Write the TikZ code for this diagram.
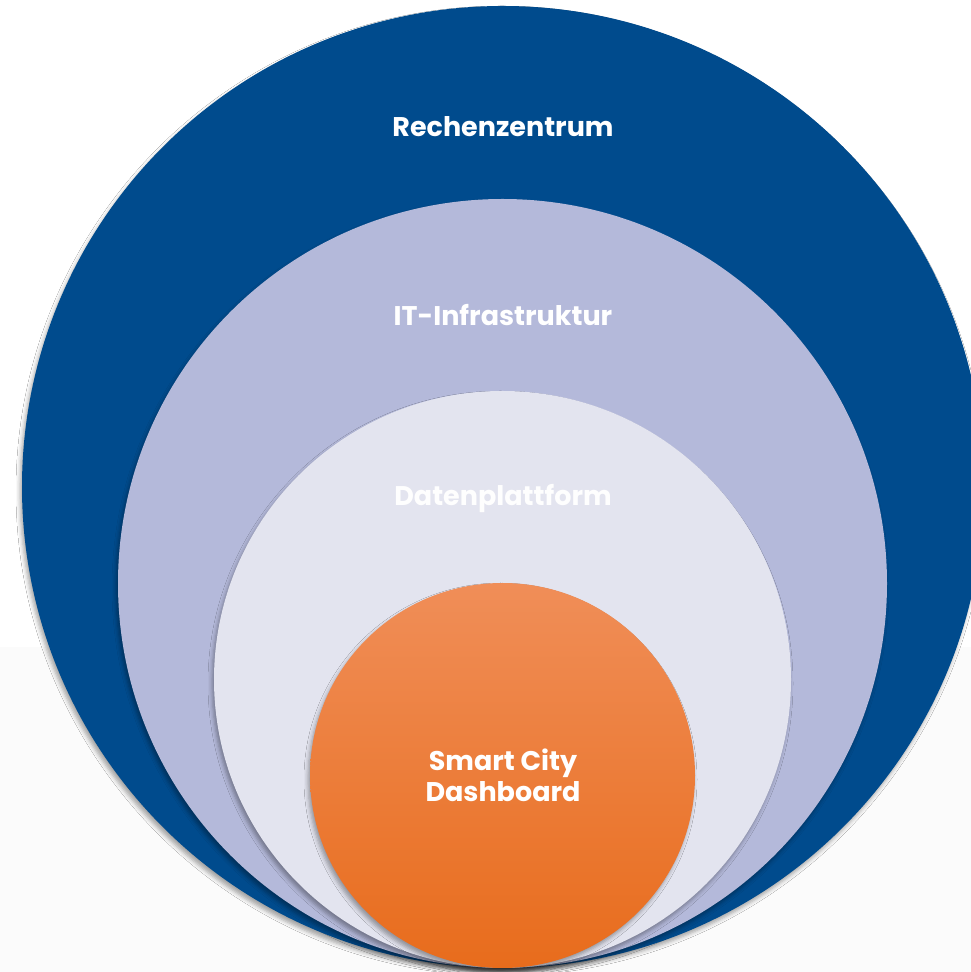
\documentclass[tikz,border=0pt]{standalone}
\usepackage{fontspec}
\setmainfont{Poppins}
\usetikzlibrary{shadows.blur}
\definecolor{cBlue}{HTML}{004B8D}
\definecolor{cLav}{HTML}{B4B9DA}
\definecolor{cPale}{HTML}{E3E4EF}
\definecolor{cOrTop}{HTML}{F08E58}
\definecolor{cOrBot}{HTML}{E86C1C}
\definecolor{cBg}{HTML}{FBFBFB}
\tikzset{
  ring/.style={circle, inner sep=0pt, draw=none,
    blur shadow={shadow xshift=-2pt, shadow yshift=-4pt, shadow blur radius=4pt, shadow opacity=35}},
  lab/.style={text=white, font=\fontsize{27}{31}\selectfont\bfseries, align=center}
}
\begin{document}
\begin{tikzpicture}[x=1pt,y=1pt]
\useasboundingbox (0,0) rectangle (971,972);
\clip (0,0) rectangle (971,972);
\fill[white] (0,0) rectangle (971,972);
\fill[cBg] (0,0) rectangle (971,325);
\node[ring, fill=cBlue, minimum size=962pt] (c1) at (503,485) {};
\node[ring, fill=cLav, minimum size=769pt] (c2) at (502.5,388.5) {};
\node[ring, fill=cPale, minimum size=577pt] (c3) at (502.5,292.5) {};
\node[ring, top color=cOrTop, bottom color=cOrBot, minimum size=385pt] (c4) at (502.5,196.5) {};
\node[lab] (t1) at (503,845) {Rechenzentrum};
\node[lab] (t2) at (503,657) {IT-Infrastruktur};
\node[lab, text=white!96!cPale] (t3) at (503,473) {Datenplattform};
\node[lab] (t4) at (503,196.5) {Smart City\\Dashboard};
\end{tikzpicture}
\end{document}
